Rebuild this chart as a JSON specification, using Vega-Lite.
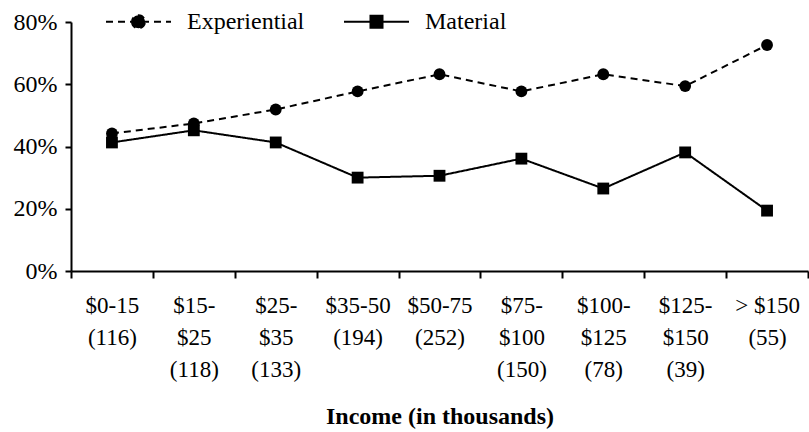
{
  "$schema": "https://vega.github.io/schema/vega-lite/v6.json",
  "width": 737,
  "height": 249,
  "autosize": {"type": "none"},
  "padding": {"left": 71, "top": 22, "right": 1, "bottom": 161},
  "background": "white",
  "config": {
    "view": {"stroke": null},
    "font": "Liberation Serif"
  },
  "data": {
    "values": [
      {"income": "$0-15|(116)", "series": "Experiential", "share": 0.442},
      {"income": "$15-|$25|(118)", "series": "Experiential", "share": 0.474},
      {"income": "$25-|$35|(133)", "series": "Experiential", "share": 0.519},
      {"income": "$35-50|(194)", "series": "Experiential", "share": 0.577},
      {"income": "$50-75|(252)", "series": "Experiential", "share": 0.632},
      {"income": "$75-|$100|(150)", "series": "Experiential", "share": 0.577},
      {"income": "$100-|$125|(78)", "series": "Experiential", "share": 0.632},
      {"income": "$125-|$150|(39)", "series": "Experiential", "share": 0.594},
      {"income": "> $150|(55)", "series": "Experiential", "share": 0.726},
      {"income": "$0-15|(116)", "series": "Material", "share": 0.413},
      {"income": "$15-|$25|(118)", "series": "Material", "share": 0.452},
      {"income": "$25-|$35|(133)", "series": "Material", "share": 0.413},
      {"income": "$35-50|(194)", "series": "Material", "share": 0.300},
      {"income": "$50-75|(252)", "series": "Material", "share": 0.306},
      {"income": "$75-|$100|(150)", "series": "Material", "share": 0.361},
      {"income": "$100-|$125|(78)", "series": "Material", "share": 0.265},
      {"income": "$125-|$150|(39)", "series": "Material", "share": 0.381},
      {"income": "> $150|(55)", "series": "Material", "share": 0.194}
    ]
  },
  "encoding": {
    "x": {
      "field": "income",
      "type": "nominal",
      "sort": null,
      "scale": {"paddingInner": 0, "paddingOuter": 0},
      "axis": {
        "title": "Income (in thousands)",
        "titleFont": "Liberation Serif",
        "titleFontSize": 24,
        "titleFontWeight": "bold",
        "titleColor": "black",
        "titlePadding": 23,
        "labelExpr": "split(datum.label, '|')",
        "labelAngle": 0,
        "labelFont": "Liberation Serif",
        "labelFontSize": 23,
        "labelLineHeight": 32,
        "labelColor": "black",
        "labelPadding": 16,
        "labelBaseline": "top",
        "tickBand": "extent",
        "tickSize": 7,
        "tickWidth": 2,
        "tickColor": "black",
        "domainColor": "black",
        "domainWidth": 2,
        "grid": false
      }
    },
    "y": {
      "field": "share",
      "type": "quantitative",
      "scale": {"domain": [0, 0.8], "nice": false},
      "axis": {
        "title": null,
        "format": ".0%",
        "values": [0, 0.2, 0.4, 0.6, 0.8],
        "labelFont": "Liberation Serif",
        "labelFontSize": 24,
        "labelColor": "black",
        "labelPadding": 8,
        "tickSize": 6,
        "tickWidth": 2,
        "tickColor": "black",
        "domainColor": "black",
        "domainWidth": 2,
        "grid": false
      }
    }
  },
  "layer": [
    {
      "mark": {"type": "line", "color": "black", "strokeWidth": 2},
      "encoding": {
        "strokeDash": {
          "field": "series",
          "type": "nominal",
          "scale": {"domain": ["Experiential", "Material"], "range": [[7, 5], [1, 0]]},
          "legend": {
            "title": null,
            "orient": "none",
            "legendX": 34,
            "legendY": -34,
            "direction": "horizontal",
            "symbolSize": 4225,
            "symbolStrokeWidth": 2,
            "symbolStrokeColor": "black",
            "symbolFillColor": "black",
            "labelFont": "Liberation Serif",
            "labelFontSize": 24,
            "labelColor": "black",
            "labelOffset": 15,
            "columnPadding": 35,
            "encode": {
              "symbols": {
                "update": {
                  "shape": {"signal": "datum.value === 'Experiential' ? 'M-1,0L1,0M-0.2,0A0.2,0.2 0 1,0 0.2,0A0.2,0.2 0 1,0 -0.2,0Z' : 'M-1,0L1,0M-0.185,-0.185L0.185,-0.185L0.185,0.185L-0.185,0.185Z'"},
                  "fill": {"value": "black"},
                  "stroke": {"value": "black"}
                }
              }
            }
          }
        }
      }
    },
    {
      "transform": [{"filter": "datum.series === 'Experiential'"}],
      "mark": {"type": "point", "shape": "circle", "filled": true, "color": "black", "opacity": 1, "size": 140}
    },
    {
      "transform": [{"filter": "datum.series === 'Material'"}],
      "mark": {"type": "point", "shape": "square", "filled": true, "color": "black", "opacity": 1, "size": 140}
    }
  ]
}
